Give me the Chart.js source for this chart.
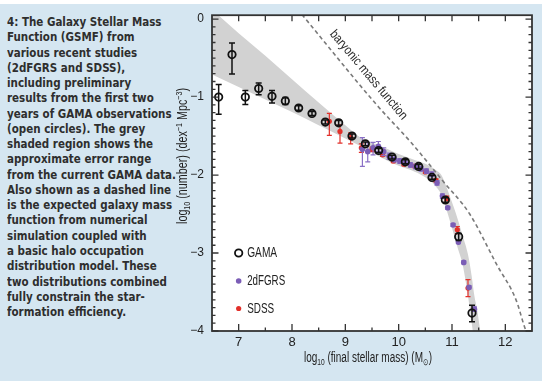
<!DOCTYPE html>
<html><head><meta charset="utf-8">
<script src="https://cdn.jsdelivr.net/npm/chart.js@4.4.0/dist/chart.umd.min.js"></script>
<style>
html,body{margin:0;padding:0;background:#fff;width:552px;height:384px;overflow:hidden;}
#panel{position:absolute;left:0;top:4px;width:542px;height:377px;background:#d5e6f1;}
#cap{position:absolute;left:7px;top:14px;font-family:"DejaVu Sans Condensed","Liberation Sans",sans-serif;font-weight:bold;font-size:13px;line-height:15.26px;color:#2e2e2e;white-space:nowrap;transform-origin:0 0;}
#c{position:absolute;left:0;top:0;}
</style></head>
<body>
<div id="panel"></div>
<div id="cap"><span>4: The Galaxy Stellar Mass</span><br><span>Function (GSMF) from</span><br><span>various recent studies</span><br><span>(2dFGRS and SDSS),</span><br><span>including preliminary</span><br><span>results from the first two</span><br><span>years of GAMA observations</span><br><span>(open circles). The grey</span><br><span>shaded region shows the</span><br><span>approximate error range</span><br><span>from the current GAMA data.</span><br><span>Also shown as a dashed line</span><br><span>is the expected galaxy mass</span><br><span>function from numerical</span><br><span>simulation coupled with</span><br><span>a basic halo occupation</span><br><span>distribution model. These</span><br><span>two distributions combined</span><br><span>fully constrain the star-</span><br><span>formation efficiency.</span></div>
<canvas id="c" width="552" height="384"></canvas>
<script>
// ---- tick labels ----
const xTicks = [7, 8, 9, 10, 11, 12];
const xTickLabels = ['7', '8', '9', '10', '11', '12'];
const yTicks = [0, -1, -2, -3, -4];
const yTickLabels = ['0', '\u22121', '\u22122', '\u22123', '\u22124'];

// ---- GAMA (open circles) ----
const gamaMass = [6.625, 6.875, 7.125, 7.375, 7.625, 7.875, 8.125, 8.375, 8.625, 8.875, 9.125, 9.375, 9.625, 9.875, 10.125, 10.375, 10.625, 10.875, 11.125, 11.375];
const gamaPhi  = [-1.00, -0.455, -1.00, -0.89, -0.99, -1.05, -1.14, -1.21, -1.32, -1.33, -1.50, -1.60, -1.685, -1.77, -1.83, -1.89, -2.03, -2.32, -2.79, -3.77];
const gamaErrUp = [0.16, 0.15, 0.085, 0.07, 0.075, 0.045, 0.03, 0.025, 0.025, 0.03, 0.025, 0.025, 0.025, 0.025, 0.025, 0.025, 0.025, 0.03, 0.04, 0.10];
const gamaErrDn = [0.22, 0.25, 0.095, 0.08, 0.085, 0.045, 0.03, 0.025, 0.025, 0.03, 0.025, 0.025, 0.025, 0.025, 0.025, 0.025, 0.025, 0.03, 0.05, 0.11];

// ---- 2dFGRS (purple) ----
const tdfMass = [9.32, 9.42, 9.52, 9.62, 9.72, 9.82, 9.92, 10.02, 10.12, 10.22, 10.32, 10.42, 10.52, 10.62, 10.72, 10.82, 10.92, 11.02, 11.12, 11.22, 11.32, 11.42];
const tdfPhi   = [-1.67, -1.70, -1.65, -1.63, -1.70, -1.76, -1.80, -1.82, -1.84, -1.87, -1.89, -1.92, -1.95, -1.99, -2.10, -2.27, -2.42, -2.64, -2.86, -3.12, -3.44, -3.72];
const tdfErrUp = [0.15, 0.12, 0.07, 0.06, 0.05, 0.04, 0.03, 0.03, 0.03, 0.03, 0.03, 0.03, 0.03, 0.03, 0.03, 0.03, 0.02, 0.02, 0.02, 0.02, 0.02, 0.03];
const tdfErrDn = [0.22, 0.13, 0.09, 0.07, 0.05, 0.04, 0.03, 0.03, 0.03, 0.03, 0.03, 0.03, 0.03, 0.03, 0.03, 0.03, 0.02, 0.02, 0.02, 0.02, 0.02, 0.03];

// ---- SDSS (red) ----
const sdssMass = [8.7, 8.9, 9.1, 9.3, 9.5, 9.7, 9.9, 10.1, 10.3, 10.5, 10.7, 10.9, 11.1, 11.3];
const sdssPhi  = [-1.31, -1.44, -1.52, -1.65, -1.67, -1.74, -1.82, -1.86, -1.885, -1.96, -2.07, -2.30, -2.70, -3.45];
const sdssErrUp = [0.10, 0.085, 0.06, 0.05, 0.03, 0.02, 0.02, 0.02, 0.02, 0.02, 0.02, 0.03, 0.04, 0.11];
const sdssErrDn = [0.18, 0.15, 0.08, 0.06, 0.03, 0.02, 0.02, 0.02, 0.02, 0.02, 0.02, 0.03, 0.05, 0.11];

// ---- grey error band (GAMA) ----
const bandMass  = [6.5, 6.62, 7.0, 7.5, 8.0, 8.5, 9.0, 9.375, 9.6, 9.8, 10.0, 10.2, 10.4, 10.6, 10.7, 10.8, 10.9, 11.0, 11.1, 11.2, 11.3, 11.37, 11.42, 11.47, 11.55];
const bandUpper = [0.12, 0.05, -0.18, -0.47, -0.77, -1.07, -1.36, -1.56, -1.61, -1.67, -1.73, -1.78, -1.83, -1.89, -1.94, -2.00, -2.16, -2.35, -2.55, -2.78, -3.02, -3.30, -3.55, -3.72, -4.10];
const bandLower = [-0.71, -0.75, -0.87, -1.03, -1.19, -1.36, -1.53, -1.66, -1.75, -1.82, -1.88, -1.93, -1.99, -2.08, -2.15, -2.25, -2.45, -2.68, -2.92, -3.15, -3.55, -3.90, -4.15, -4.40, -4.80];

// ---- baryonic mass function (dashed) ----
const baryMass = [8.185, 9.588, 10.242, 10.833, 11.332, 11.832, 12.206, 12.361, 12.40];
const baryPhi  = [0.06, -1.10, -1.59, -2.08, -2.50, -3.14, -3.61, -3.95, -4.02];

const legendLabels = ['GAMA', '2dFGRS', 'SDSS'];
const baryLabel = 'baryonic mass function';

const F = '"Liberation Sans", Arial, sans-serif';
const PURPLE = '#7b5db6', PURPLE_ERR = '#8a70c6', RED = '#e2302a';

const pts = (xs, ys) => xs.map((x, i) => ({x: x, y: ys[i]}));

function drawRich(ctx, segs, x, y, size) {
  segs.forEach(s => {
    const small = s.sub || s.sup;
    const sz = small ? size * 0.66 : size;
    ctx.font = sz + 'px ' + F;
    const dy = s.sub ? size * 0.22 : (s.sup ? -size * 0.36 : 0);
    ctx.fillText(s.t, x, y + dy);
    x += ctx.measureText(s.t).width;
  });
}
function richWidth(ctx, segs, size) {
  let w = 0;
  segs.forEach(s => { const sz = (s.sub || s.sup) ? size * 0.66 : size; ctx.font = sz + 'px ' + F; w += ctx.measureText(s.t).width; });
  return w;
}
function drawRichFit(ctx, segs, size, target) {
  const w = richWidth(ctx, segs, size);
  ctx.save(); ctx.scale(target / w, 1);
  drawRich(ctx, segs, -w / 2, 0, size);
  ctx.restore();
}

const decor = {
  id: 'decor',
  beforeDraw(chart) {
    const {ctx, chartArea: a} = chart;
    ctx.save(); ctx.fillStyle = '#fff';
    ctx.fillRect(a.left, a.top, a.right - a.left, a.bottom - a.top);
    ctx.restore();
  },
  beforeDatasetDraw(chart, args) {
    const ds = chart.data.datasets[args.index];
    if (!ds.errUp) return;
    const {ctx, chartArea: a} = chart;
    const xs = chart.scales.x, ys = chart.scales.y;
    ctx.save();
    ctx.beginPath(); ctx.rect(a.left, a.top, a.right - a.left, a.bottom - a.top); ctx.clip();
    ctx.strokeStyle = ds.errColor; ctx.lineWidth = ds.errWidth;
    ds.data.forEach((p, i) => {
      const x = xs.getPixelForValue(p.x);
      const y1 = ys.getPixelForValue(p.y + ds.errUp[i]);
      const y2 = ys.getPixelForValue(p.y - ds.errDn[i]);
      const c = ds.capHalf;
      ctx.beginPath();
      ctx.moveTo(x, y1); ctx.lineTo(x, y2);
      ctx.moveTo(x - c, y1); ctx.lineTo(x + c, y1);
      ctx.moveTo(x - c, y2); ctx.lineTo(x + c, y2);
      ctx.stroke();
    });
    ctx.restore();
  },
  afterDatasetsDraw(chart) {
    const {ctx, chartArea: a} = chart;
    const xs = chart.scales.x, ys = chart.scales.y;
    ctx.save();
    ctx.strokeStyle = '#333'; ctx.lineWidth = 1.8;
    ctx.strokeRect(a.left, a.top, a.right - a.left, a.bottom - a.top);
    ctx.lineWidth = 1.3;
    ctx.beginPath();
    for (let k = 0; k <= 10; k++) {
      const v = xTicks[0] + k * 0.5;
      const px = xs.getPixelForValue(v);
      const major = (k % 2 === 0);
      ctx.moveTo(px, a.bottom); ctx.lineTo(px, a.bottom - (major ? 7 : 3.5));
      ctx.moveTo(px, a.top); ctx.lineTo(px, a.top + 6);
    }
    for (let k = 0; k <= 40; k++) {
      const v = -4 + k * 0.1;
      const py = ys.getPixelForValue(v);
      const major = (k % 10 === 0);
      const L = major ? 6.5 : 3.5;
      ctx.moveTo(a.left, py); ctx.lineTo(a.left + L, py);
      ctx.moveTo(a.right, py); ctx.lineTo(a.right - L, py);
    }
    ctx.stroke();
    ctx.restore();
  },
  afterDraw(chart) {
    const {ctx, chartArea: a} = chart;
    const xs = chart.scales.x;
    ctx.save();
    ctx.fillStyle = '#222';
    ctx.textBaseline = 'alphabetic';
    const xt = [{t: 'log'}, {t: '10', sub: 1}, {t: ' (final stellar mass) (M'}, {t: '\u2299', sub: 1}, {t: ')'}];
    ctx.save(); ctx.translate(368, 362); drawRichFit(ctx, xt, 14, 128); ctx.restore();
    const yt = [{t: 'log'}, {t: '10', sub: 1}, {t: ' (number) (dex'}, {t: '\u22121', sup: 1}, {t: ' Mpc'}, {t: '\u22123', sup: 1}, {t: ')'}];
    ctx.save(); ctx.translate(187, 156); ctx.rotate(-Math.PI / 2); drawRichFit(ctx, yt, 14, 136); ctx.restore();
    ctx.save();
    ctx.translate(368.5, 75); ctx.rotate(49.8 * Math.PI / 180);
    ctx.fillStyle = '#2a2a2a'; ctx.textBaseline = 'middle';
    drawRichFit(ctx, [{t: baryLabel}], 13, 113);
    ctx.restore();
    const lx = xs.getPixelForValue(7.0);
    const ly = [253, 281, 308.5];
    const lw = [30, 38, 27];
    ctx.lineWidth = 1.8; ctx.strokeStyle = '#111';
    ctx.beginPath(); ctx.arc(lx, ly[0], 3.7, 0, Math.PI * 2); ctx.stroke();
    ctx.fillStyle = PURPLE; ctx.beginPath(); ctx.arc(lx, ly[1], 2.8, 0, Math.PI * 2); ctx.fill();
    ctx.fillStyle = RED; ctx.beginPath(); ctx.arc(lx, ly[2], 2.6, 0, Math.PI * 2); ctx.fill();
    ctx.fillStyle = '#222'; ctx.textBaseline = 'middle';
    legendLabels.forEach((t, i) => {
      ctx.save(); ctx.translate(lx + 8.5 + lw[i] / 2, ly[i] + 0.5);
      drawRichFit(ctx, [{t: t}], 14, lw[i]);
      ctx.restore();
    });
    ctx.restore();
  }
};

new Chart(document.getElementById('c'), {
  data: {
    datasets: [
      {type: 'scatter', label: 'GAMA', data: pts(gamaMass, gamaPhi), order: 0,
       pointRadius: 3.7, pointBorderWidth: 1.8, borderColor: '#111', backgroundColor: 'rgba(0,0,0,0)',
       errUp: gamaErrUp, errDn: gamaErrDn, errColor: '#111', errWidth: 1.5, capHalf: 3},
      {type: 'scatter', label: '2dFGRS', data: pts(tdfMass, tdfPhi), order: 1,
       pointRadius: 2.8, pointBorderWidth: 0, borderColor: PURPLE, backgroundColor: PURPLE,
       errUp: tdfErrUp, errDn: tdfErrDn, errColor: PURPLE_ERR, errWidth: 1.2, capHalf: 2.5},
      {type: 'scatter', label: 'SDSS', data: pts(sdssMass, sdssPhi), order: 2,
       pointRadius: 2.6, pointBorderWidth: 0, borderColor: RED, backgroundColor: RED,
       errUp: sdssErrUp, errDn: sdssErrDn, errColor: RED, errWidth: 1.2, capHalf: 2.5},
      {type: 'line', label: 'baryonic', data: pts(baryMass, baryPhi), order: 3,
       borderColor: '#7a7a7a', borderWidth: 1.6, borderDash: [4, 3], pointRadius: 0, fill: false,
       cubicInterpolationMode: 'monotone'},
      {type: 'line', label: 'bandUpper', data: pts(bandMass, bandUpper), order: 4,
       borderWidth: 0, pointRadius: 0, fill: '+1', backgroundColor: '#d2d2d2', borderColor: 'rgba(0,0,0,0)',
       cubicInterpolationMode: 'monotone'},
      {type: 'line', label: 'bandLower', data: pts(bandMass, bandLower), order: 5,
       borderWidth: 0, pointRadius: 0, fill: false, borderColor: 'rgba(0,0,0,0)',
       cubicInterpolationMode: 'monotone'}
    ]
  },
  options: {
    responsive: false, animation: false, devicePixelRatio: 1,
    layout: {padding: {left: 0, right: 20, top: 13, bottom: 0}},
    plugins: {legend: {display: false}, tooltip: {enabled: false}},
    scales: {
      x: {type: 'linear', min: 6.5, max: 12.5,
          grid: {display: false, drawTicks: false}, border: {display: false},
          afterBuildTicks: s => { s.ticks = xTicks.map(v => ({value: v})); },
          afterFit: s => { s.height = 53; },
          ticks: {autoSkip: false, maxRotation: 0, padding: 4, color: '#222', font: {family: F, size: 13},
                  callback: v => { const i = xTicks.indexOf(v); return i >= 0 ? xTickLabels[i] : ''; }}},
      y: {type: 'linear', min: -4, max: 0.05,
          grid: {display: false, drawTicks: false}, border: {display: false},
          afterBuildTicks: s => { s.ticks = yTicks.map(v => ({value: v})); },
          afterFit: s => { s.width = 212; },
          ticks: {autoSkip: false, padding: 8, color: '#222', font: {family: F, size: 12},
                  callback: v => { const i = yTicks.indexOf(v); return i >= 0 ? yTickLabels[i] : ''; }}}
    }
  },
  plugins: [decor]
});

const cap = document.getElementById('cap');
let maxW = 0;
cap.querySelectorAll('span').forEach(s => { maxW = Math.max(maxW, s.getBoundingClientRect().width); });
if (maxW > 0) cap.style.transform = 'scaleX(' + (169 / maxW) + ')';
</script>
</body></html>
